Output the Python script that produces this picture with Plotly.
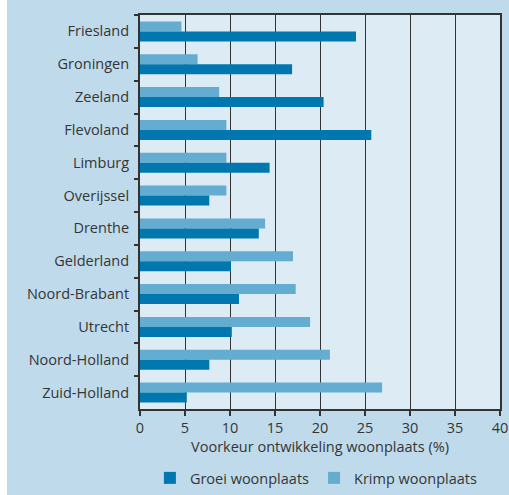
import plotly.graph_objects as go

provinces = ["Friesland", "Groningen", "Zeeland", "Flevoland", "Limburg", "Overijssel",
             "Drenthe", "Gelderland", "Noord-Brabant", "Utrecht", "Noord-Holland", "Zuid-Holland"]
groei = [24.0, 16.9, 20.4, 25.7, 14.4, 7.7, 13.2, 10.1, 11.0, 10.2, 7.7, 5.2]
krimp = [4.6, 6.4, 8.8, 9.6, 9.6, 9.6, 13.9, 17.0, 17.3, 18.9, 21.1, 26.9]
x_ticks = [0, 5, 10, 15, 20, 25, 30, 35, 40]

FONT = "Open Sans"
TXT = "#353535"
PLOT_W = 509 - 140 - 9
PLOT_H = 495 - 15 - 86

fig = go.Figure()
fig.add_trace(go.Bar(y=provinces, x=krimp, orientation="h", name="Krimp woonplaats",
                     marker=dict(color="#64add1", line=dict(width=0)), legendrank=2))
fig.add_trace(go.Bar(y=provinces, x=groei, orientation="h", name="Groei woonplaats",
                     marker=dict(color="#0077ae", line=dict(width=0)), legendrank=1))

fig.update_layout(
    width=509, height=495,
    margin=dict(l=140, r=9, t=15, b=86, autoexpand=False),
    paper_bgcolor="#bfdbeb",
    plot_bgcolor="#ddebf4",
    barmode="group", bargap=0.39, bargroupgap=0,
    font=dict(family=FONT, size=14.5, color=TXT),
    showlegend=True,
    legend=dict(orientation="h", x=0.49, xanchor="center", y=-0.175, yanchor="middle",
                bgcolor="rgba(0,0,0,0)", font=dict(size=14.5, color=TXT),
                itemwidth=30),
    xaxis=dict(range=[0, 40], tickvals=x_ticks, showgrid=True, gridcolor="#333333", gridwidth=1.2,
               showline=True, linecolor="#333333", linewidth=2, mirror=True,
               ticks="outside", ticklen=5, tickcolor="#333333", tickwidth=1.5,
               zeroline=False, fixedrange=True, automargin=False,
               title=dict(text="Voorkeur ontwikkeling woonplaats (%)", standoff=4,
                          font=dict(size=14.5, color=TXT)),
               tickfont=dict(size=14.5, color=TXT)),
    yaxis=dict(type="category", categoryorder="array", categoryarray=provinces,
               autorange="reversed", showgrid=False, automargin=False, fixedrange=True,
               showline=True, linecolor="#333333", linewidth=2, mirror=True,
               ticks="outside", tickson="boundaries", ticklen=4, tickcolor="#333333", tickwidth=1.5,
               ticklabelstandoff=6, tickfont=dict(size=14.5, color=TXT)),
    shapes=[dict(type="rect", xref="paper", yref="paper", x0=-140 / PLOT_W, x1=-133 / PLOT_W,
                 y0=-86 / PLOT_H, y1=1 + 15 / PLOT_H, fillcolor="white",
                 line=dict(width=0), layer="below")],
)

fig.write_html(
    "out.html",
    config={"displayModeBar": False},
    post_script=("document.documentElement.style.overflow='hidden';"
                 "document.body.style.margin='0';document.body.style.overflow='hidden';"),
)
